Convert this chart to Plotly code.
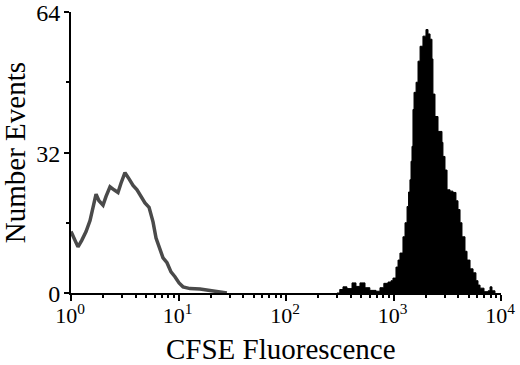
import plotly.graph_objects as go

# Open histogram (grey outline) - log10 fluorescence and event counts
open_log_fl = [0.00, 0.028, 0.065, 0.10, 0.14, 0.177, 0.205, 0.233, 0.26, 0.298, 0.326,
               0.363, 0.40, 0.437, 0.465, 0.502, 0.54, 0.577, 0.614, 0.651, 0.688, 0.726,
               0.763, 0.791, 0.819, 0.856, 0.893, 0.93, 0.967, 1.005, 1.042, 1.107, 1.2,
               1.265, 1.34, 1.45]
open_counts = [14, 12.5, 10.5, 12, 14, 16.5, 19.5, 22.5, 21, 20, 22,
               24.2, 23.5, 22.9, 25, 27.4, 26, 24.5, 23.5, 22, 20.5, 19.5,
               16.2, 12.5, 10.5, 8, 6.9, 4.8, 3.7, 2.3, 1.4, 1.0, 0.9,
               0.7, 0.3, 0]

# CFSE-labelled population (filled histogram)
filled_log_fl = [2.474, 2.50, 2.53, 2.567, 2.614, 2.651, 2.688, 2.735, 2.78, 2.837, 2.874,
                 2.91, 2.949, 2.977, 2.995, 3.023, 3.042, 3.06, 3.088, 3.107, 3.126, 3.14,
                 3.153, 3.163, 3.172, 3.181, 3.191, 3.21, 3.228, 3.247, 3.274, 3.302, 3.321,
                 3.34, 3.358, 3.367, 3.386, 3.414, 3.451, 3.46, 3.479, 3.498, 3.526, 3.553,
                 3.581, 3.60, 3.619, 3.637, 3.665, 3.684, 3.712, 3.74, 3.767, 3.786, 3.805,
                 3.842, 3.88, 3.898, 3.916, 3.944]
filled_counts = [0, 0.8, 1.4, 1.0, 2.3, 1.5, 2.3, 1.2, 0.6, 0.4, 1.2,
                 2.2, 2.5, 2.8, 3.4, 5.9, 7.5, 9.1, 12.8, 16, 19.7, 23,
                 25.8, 30, 33.4, 41.8, 45.7, 48, 52.8, 56.2, 58.5, 60, 59,
                 57.8, 53.3, 45.3, 40.2, 36.8, 34.3, 31.1, 28, 23.5, 23.2, 22.9,
                 21, 19, 16, 12.8, 9.5, 7.5, 5.5, 4.6, 2.8, 1.8, 1.1,
                 0.3, 0.5, 1.4, 0.5, 0]

x_tick_vals = [1, 10, 100, 1000, 10000]
x_tick_text = ["10<sup>0</sup>", "10<sup>1</sup>", "10<sup>2</sup>", "10<sup>3</sup>", "10<sup>4</sup>"]
y_tick_vals = [0, 32, 64]
y_minor_vals = [16, 48]
x_minor_vals = [m * 10 ** d for d in range(4) for m in range(2, 10)]

x_title = "CFSE Fluorescence"
y_title = "Number Events"

FONT = "Liberation Serif"

fig = go.Figure()
fig.add_trace(go.Scatter(
    x=[10 ** v for v in filled_log_fl], y=filled_counts,
    mode="lines", line=dict(color="black", width=1, shape="hv"),
    fill="tozeroy", fillcolor="black", hoverinfo="skip", showlegend=False))
fig.add_trace(go.Scatter(
    x=[10 ** v for v in open_log_fl], y=open_counts,
    mode="lines", line=dict(color="#4a4a4a", width=3.5),
    hoverinfo="skip", showlegend=False))

fig.update_layout(
    width=520, height=365,
    margin=dict(l=71, r=19, t=12, b=72),
    paper_bgcolor="white", plot_bgcolor="white",
    font=dict(family=FONT, color="black", size=22),
    xaxis=dict(
        type="log", range=[0, 4],
        tickvals=x_tick_vals, ticktext=x_tick_text,
        ticks="outside", ticklen=6, tickwidth=2, tickcolor="black",
        minor=dict(tickvals=x_minor_vals, ticks="outside", ticklen=3, tickwidth=1.5, tickcolor="black"),
        showline=True, linecolor="black", linewidth=2,
        showgrid=False, zeroline=False,
        tickfont=dict(size=22, family=FONT),
        ticklabeloverflow="allow", ticklabelstandoff=-4, ticklabelshift=-1,
        automargin=False,
    ),
    yaxis=dict(
        range=[0, 64],
        tickvals=y_tick_vals,
        ticks="outside", ticklen=5, tickwidth=2, tickcolor="black",
        minor=dict(tickvals=y_minor_vals, ticks="outside", ticklen=3, tickwidth=1.5, tickcolor="black"),
        showline=True, linecolor="black", linewidth=2,
        showgrid=False, zeroline=False,
        tickfont=dict(size=24, family=FONT),
        ticklabeloverflow="allow", ticklabelstandoff=-1, ticklabelshift=1,
        automargin=False,
    ),
    annotations=[
        dict(text=x_title, xref="paper", yref="paper", x=0.488, y=-0.263,
             xanchor="center", yanchor="bottom", showarrow=False,
             font=dict(size=29, family=FONT, color="black")),
        dict(text=y_title, xref="paper", yref="paper", x=-0.131, y=0.5,
             xanchor="center", yanchor="middle", textangle=-90, showarrow=False,
             font=dict(size=29, family=FONT, color="black")),
    ],
)

fig.write_html("out.html", config={"displayModeBar": False},
               post_script="document.body.style.margin='0';")
